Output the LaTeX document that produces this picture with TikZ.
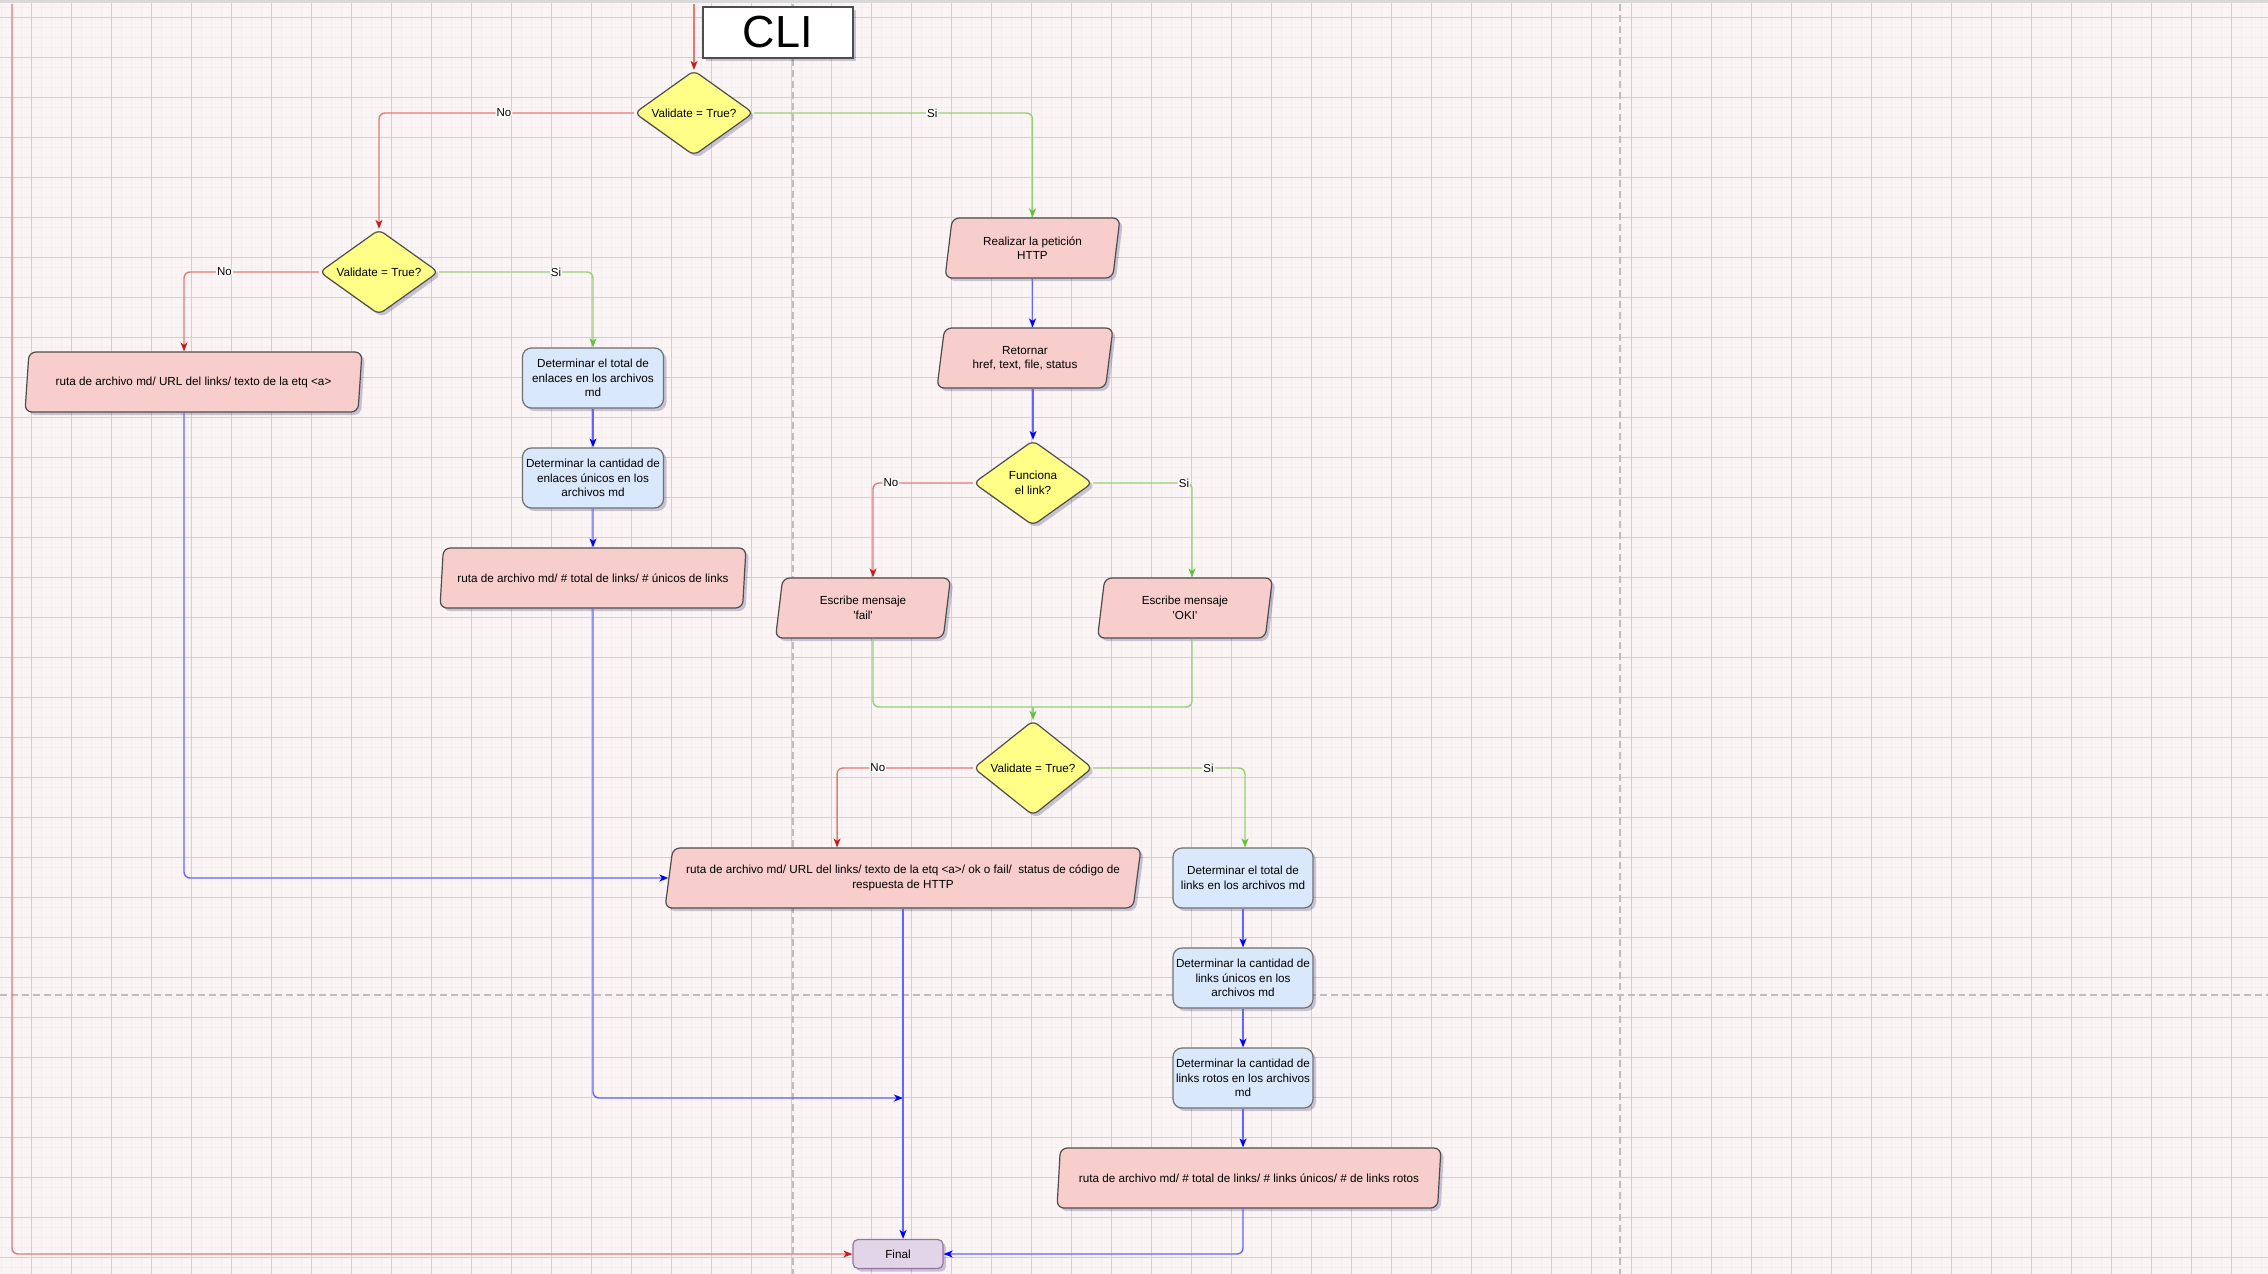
\documentclass[tikz,border=0pt]{standalone}
\usepackage{fontspec}
\newfontfamily\diagfont{Liberation Sans}
\usetikzlibrary{shapes.geometric,arrows.meta,shadows,positioning}

\definecolor{paper}{RGB}{251,244,244}
\definecolor{gridminor}{RGB}{245,238,239}
\definecolor{gridmajor}{RGB}{211,207,208}
\definecolor{pagebreak}{RGB}{190,190,190}
\definecolor{inoutfill}{HTML}{F8CECC}
\definecolor{processfill}{HTML}{DAE8FC}
\definecolor{decisionfill}{HTML}{FFFF88}
\definecolor{finalfill}{HTML}{E1D5E7}
\definecolor{finaldraw}{HTML}{9673A6}
\definecolor{shapedraw}{HTML}{4D4D4D}
\definecolor{nored}{HTML}{E07A78}
\definecolor{noredtip}{HTML}{C0201E}
\definecolor{sigreen}{HTML}{97D077}
\definecolor{sigreentip}{HTML}{5FC23A}
\definecolor{flowblue}{HTML}{6464FF}
\definecolor{flowbluetip}{HTML}{0000FF}

\tikzset{
    softshadow/.style={
        drop shadow={shadow xshift=3pt,shadow yshift=-3pt,fill=black!70!blue,opacity=0.2}
    },
    decision/.style={
        diamond,
        shape aspect=1.4,
        rounded corners=6pt,
        draw=shapedraw,
        line width=1.2pt,
        fill=decisionfill,
        inner sep=0pt,
        minimum width=119pt,
        minimum height=85pt,
        align=center,
        softshadow
    },
    inout/.style={
        trapezium,
        trapezium left angle=75,
        trapezium right angle=105,
        trapezium stretches body,
        rounded corners=7pt,
        draw=shapedraw,
        line width=1.2pt,
        fill=inoutfill,
        inner sep=2pt,
        minimum height=60pt,
        align=center,
        softshadow
    },
    process/.style={
        rectangle,
        rounded corners=9pt,
        draw=shapedraw!80,
        line width=1.2pt,
        fill=processfill,
        inner sep=1pt,
        minimum width=141pt,
        minimum height=60pt,
        align=center,
        softshadow
    },
    finalbox/.style={
        rectangle,
        rounded corners=5pt,
        draw=finaldraw,
        line width=1.2pt,
        fill=finalfill,
        minimum width=90pt,
        minimum height=29pt,
        softshadow
    },
    titlebox/.style={
        rectangle,
        draw=shapedraw,
        line width=2pt,
        fill=white,
        minimum width=150pt,
        minimum height=51pt,
        inner sep=0pt,
        font=\diagfont\fontsize{45}{50}\selectfont,
        softshadow
    },
    nobranch/.style={
        draw=nored,
        line width=1.4pt,
        rounded corners=6pt,
        -{Stealth[length=9pt,width=7pt,inset=2.5pt,color=noredtip]}
    },
    sibranch/.style={
        draw=sigreen,
        line width=1.4pt,
        rounded corners=6pt,
        -{Stealth[length=9pt,width=7pt,inset=2.5pt,color=sigreentip]}
    },
    flowline/.style={
        draw=flowblue,
        line width=1.4pt,
        rounded corners=6pt,
        -{Stealth[length=9pt,width=7pt,inset=2.5pt,color=flowbluetip]}
    },
    branchlabel/.style={
        fill=white,
        inner sep=1pt,
        font=\diagfont\fontsize{11.5}{12}\selectfont
    }
}

\begin{document}
\begin{tikzpicture}[x=1pt,y=-1pt,node distance=38.8pt,
    every node/.append style={font=\diagfont\fontsize{11.7}{14.5}\selectfont}]
    \useasboundingbox (0,0) rectangle (2268,1274);
    % paper and grid
    \fill[paper] (0,0) rectangle (2268,1274);
    \foreach \i in {0,...,226}
        \draw[gridminor,line width=1.5pt] (10*\i+1.7,0) -- (10*\i+1.7,1274);
    \foreach \j in {0,...,126}
        \draw[gridminor,line width=1.5pt] (0,10*\j+7.3) -- (2268,10*\j+7.3);
    \foreach \i in {0,...,56}
        \draw[gridmajor,line width=1.1pt] (40*\i+31.7,0) -- (40*\i+31.7,1274);
    \foreach \j in {0,...,31}
        \draw[gridmajor,line width=1.1pt] (0,40*\j+17.3) -- (2268,40*\j+17.3);
    \draw[gray!30,line width=3pt] (0,1.5) -- (2268,1.5);
    % page breaks
    \draw[pagebreak,line width=1.8pt,dash pattern=on 7pt off 4pt] (793,4) -- (793,1274);
    \draw[pagebreak,line width=1.8pt,dash pattern=on 7pt off 4pt] (1620,4) -- (1620,1274);
    \draw[pagebreak,line width=1.8pt,dash pattern=on 7pt off 4pt] (0,995) -- (2268,995);

    \node [titlebox] (cli) at (778,32.5) {CLI};
    \node [decision] (d1) at (694,113) {Validate = True?};
    \node [decision] (d2) at (379,272) {Validate = True?};
    \node [inout,minimum width=337pt] (p1) at (193.5,382) {ruta de archivo md/ URL del links/ texto de la etq <a>};
    \node [process] (b1) at (593,378) {Determinar el total de\\enlaces en los archivos\\md};
    \node [process] (b2) [below=of b1] {Determinar la cantidad de\\enlaces únicos en los\\archivos md};
    \node [inout,minimum width=306pt] (p2) [below=of b2] {ruta de archivo md/ \# total de links/ \# únicos de links};

    \node [inout,minimum width=175pt] (r1) at (1032.5,248) {Realizar la petición\\HTTP};
    \node [inout,minimum width=176pt] (r2) [below=48.8pt of r1,xshift=-7.5pt] {Retornar\\href, text, file, status};
    \node [decision] (d3) at (1033,483) {Funciona\\el link?};
    \node [inout,minimum width=175pt] (fail) at (863,608) {Escribe mensaje\\'fail'};
    \node [inout,minimum width=175pt] (ok) at (1185,608) {Escribe mensaje\\'OKI'};
    \coordinate (merge) at (1033,707);
    \node [decision,minimum height=95pt] (d4) at (1033,768) {Validate = True?};

    \node [inout,minimum width=476pt] (p3) at (903,878) {ruta de archivo md/ URL del links/ texto de la etq <a>/ ok o fail/ \ status de código de\\respuesta de HTTP};
    \node [process,minimum width=140pt] (b3) at (1243,878) {Determinar el total de\\links en los archivos md};
    \node [process,minimum width=140pt] (b4) [below=of b3] {Determinar la cantidad de\\links únicos en los\\archivos md};
    \node [process,minimum width=140pt] (b5) [below=of b4] {Determinar la cantidad de\\links rotos en los archivos\\md};
    \node [inout,minimum width=384pt,xshift=6pt] (p4) [below=of b5] {ruta de archivo md/ \# total de links/ \# links únicos/ \# de links rotos};
    \node [finalbox] (final) at (898,1254) {Final};

    \coordinate (start) at (694,4);
    \coordinate (topleft) at (12,4);
    \coordinate (join) at (903,1098);

    % first check
    \draw[nobranch] (start) -- (d1.north);
    \draw[nobranch] (d1.west) -| node[branchlabel,pos=0.255]{No} (d2.north);
    \draw[sibranch] (d1.east) -| node[branchlabel,pos=0.32]{Si} (r1.north);
    % left side
    \draw[nobranch] (d2.west) -| node[branchlabel,pos=0.35]{No} ([xshift=-9.5pt]p1.north);
    \draw[sibranch] (d2.east) -| node[branchlabel,pos=0.38]{Si} (b1.north);
    \draw[flowline] (b1) -- (b2);
    \draw[flowline] (b2) -- (p2);
    \draw[flowline] ([xshift=-9.5pt]p1.south) |- (p3.west);
    \draw[flowline] (p2.south) |- (join);
    % http request
    \draw[flowline] (r1.south) -- (r1.south |- r2.north);
    \draw[flowline] (r2.south -| d3.north) -- (d3.north);
    \draw[nobranch] (d3.west) -| node[branchlabel,pos=0.41]{No} ([xshift=10pt]fail.north);
    \draw[sibranch] (d3.east) -| node[branchlabel,pos=0.46]{Si} ([xshift=7pt]ok.north);
    \draw[sibranch,-] ([xshift=10pt]fail.south) |- (merge) -| ([xshift=7pt]ok.south);
    \draw[sibranch] (merge) -- (d4.north);
    \draw[nobranch] (d4.west) -| node[branchlabel,pos=0.35]{No} ([xshift=-66pt]p3.north);
    \draw[sibranch] (d4.east) -| node[branchlabel,pos=0.38]{Si} ([xshift=2pt]b3.north);
    \draw[flowline] (b3) -- (b4);
    \draw[flowline] (b4) -- (b5);
    \draw[flowline] (b5.south) -- (b5.south |- p4.north);
    % to the end
    \draw[flowline] (p3.south) -- (p3.south |- final.north);
    \draw[flowline] (p4.south -| b5.south) |- (final.east);
    \draw[nobranch] (topleft) |- (final.west);
\end{tikzpicture}
\end{document}
